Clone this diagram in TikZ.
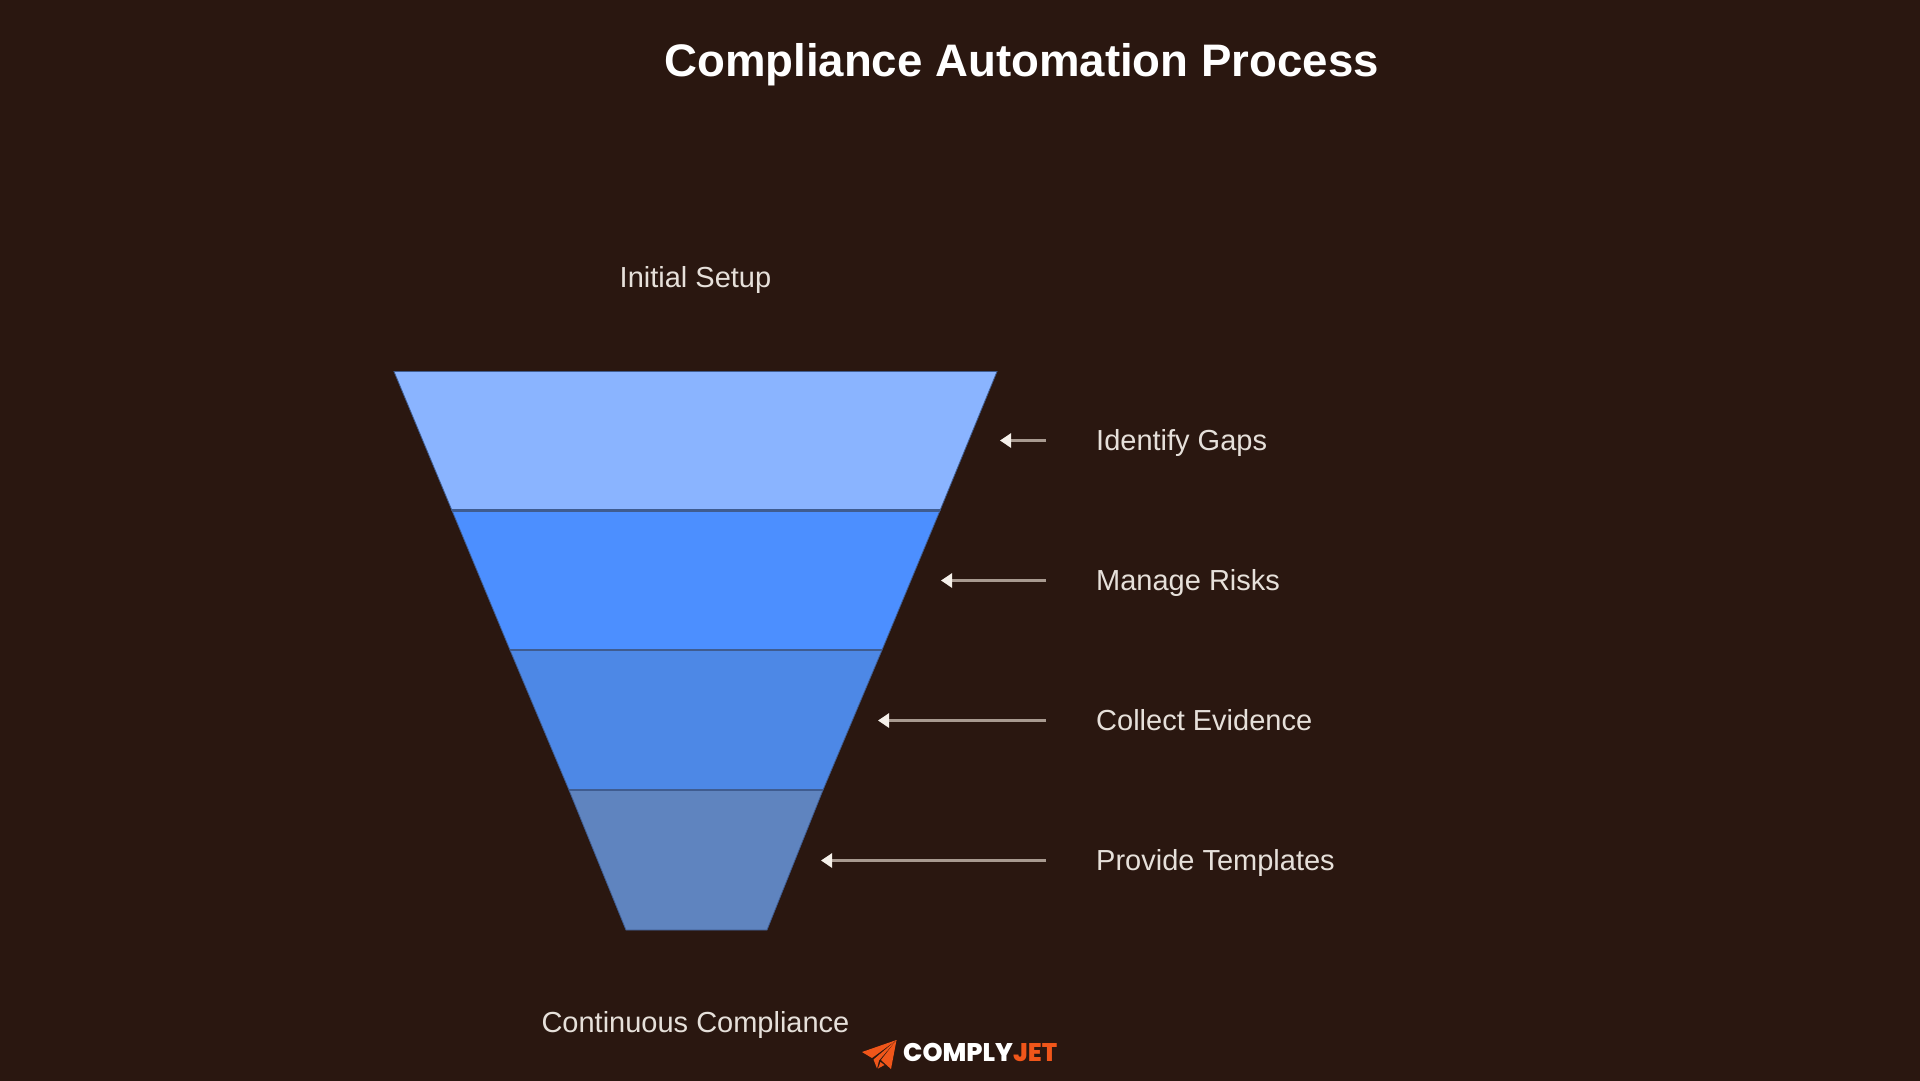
\documentclass[tikz,border=0pt]{standalone}
\usepackage{fontspec}
\setmainfont{Liberation Sans}
\newfontfamily\logofont{Poppins ExtraBold}
\usetikzlibrary{arrows.meta}
\definecolor{bgc}{HTML}{2A1710}
\definecolor{layA}{HTML}{8AB4FF}
\definecolor{layB}{HTML}{4C8FFF}
\definecolor{layC}{HTML}{4D88E6}
\definecolor{layD}{HTML}{5F84BF}
\definecolor{edgec}{HTML}{3F5C90}
\definecolor{txtc}{HTML}{E6E0DA}
\definecolor{linec}{HTML}{A89A90}
\definecolor{headc}{HTML}{F5F0EA}
\definecolor{orangec}{HTML}{F0561A}
\tikzset{
  x=1pt,y=-1pt,
  layer/.style={draw=edgec,line width=0.8pt,line join=miter},
  divider/.style={draw=edgec,line width=2.6pt},
  lab/.style={text=txtc,font=\fontsize{29}{34}\selectfont,inner sep=0pt,text height=22pt,text depth=6pt},
  sidelab/.style={lab,anchor=west},
  conn/.style={draw=linec,line width=2.6pt,shorten <=50pt,-{Triangle[length=11pt,width=14pt,color=headc]}},
}
\begin{document}
\begin{tikzpicture}
\useasboundingbox (0,0) rectangle (1920,1080);
\fill[bgc] (-3,-3) rectangle (1923,1083);
\node[text=white,inner sep=0pt,font=\bfseries\fontsize{45.6}{52}\selectfont] (title) at (1021.5,65) {Compliance Automation Process};
\node[lab] (top) at (695.5,279) {Initial Setup};
\node[lab] (bottom) at (695.5,1024) {Continuous Compliance};
\path[fill=layA,layer] (394,371.5) -- (997,371.5) -- (940,510.5) -- (452,510.5) -- cycle;
\path[fill=layB,layer] (452,510.5) -- (940,510.5) -- (882,650) -- (510,650) -- cycle;
\path[fill=layC,layer] (510,650) -- (882,650) -- (823,790) -- (569,790) -- cycle;
\path[fill=layD,layer] (569,790) -- (823,790) -- (767,930) -- (626,930) -- cycle;
\draw[divider] (452,510.5) -- (940,510.5);
\draw[divider] (510,650) -- (882,650);
\draw[divider] (569,790) -- (823,790);
\node[sidelab] (l1) at (1096,442.5) {Identify Gaps};
\node[sidelab] (l2) at (1096,582.5) {Manage Risks};
\node[sidelab] (l3) at (1096,722.5) {Collect Evidence};
\node[sidelab] (l4) at (1096,862.5) {Provide Templates};
\coordinate (t1) at (1000,440.5);
\coordinate (t2) at (941,580.5);
\coordinate (t3) at (878,720.5);
\coordinate (t4) at (821,860.5);
\draw[conn] (l1.west |- t1) -- (t1);
\draw[conn] (l2.west |- t2) -- (t2);
\draw[conn] (l3.west |- t3) -- (t3);
\draw[conn] (l4.west |- t4) -- (t4);
\fill[orangec] (896.5,1040) -- (862,1052) -- (872,1058) -- cycle;
\fill[orangec] (896.5,1040) -- (873.5,1059.5) -- (877,1068.5) -- (879,1060.5) -- cycle;
\fill[orangec] (896.5,1040) -- (881,1060) -- (891,1069) -- cycle;
\fill[orangec] (878,1068.5) -- (880.5,1062) -- (884.5,1065) -- cycle;
\node[anchor=west,inner sep=0pt,text=white,font=\logofont\fontsize{25.5}{30}\selectfont] (logo) at (903,1052.5) {COMPLY\textcolor{orangec}{JET}};
\end{tikzpicture}
\end{document}
